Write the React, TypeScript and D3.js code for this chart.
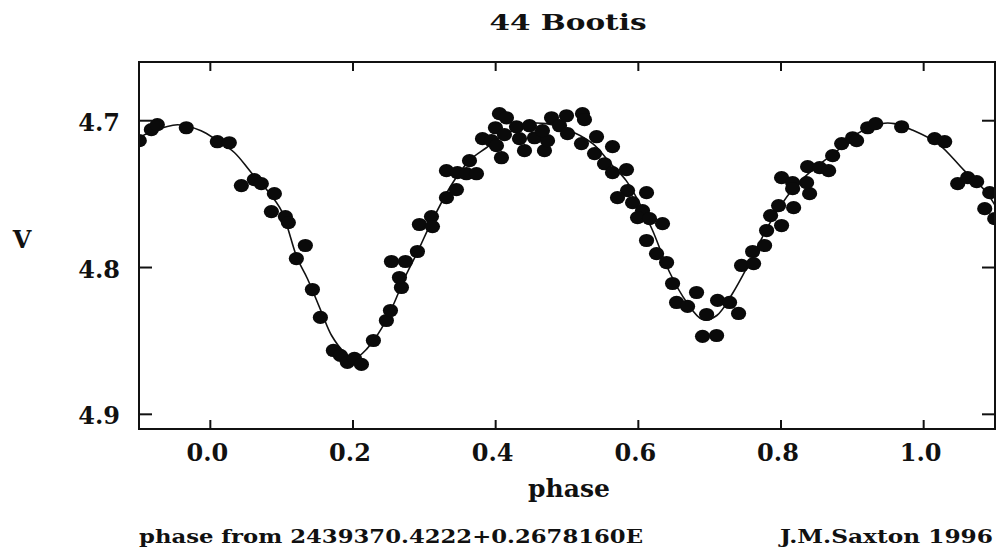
import React from "react";
import * as d3 from "d3";

const title = "44 Bootis";
const xLabel = "phase";
const yLabel = "V";
const footerLeft = "phase from 2439370.4222+0.2678160E";
const footerRight = "J.M.Saxton 1996";

const xTicks = [0.0, 0.2, 0.4, 0.6, 0.8, 1.0];
const yTicks = [4.7, 4.8, 4.9];

// observed points: phase, V magnitude
const obsPhase = [
  -0.0996, -0.0827, -0.0743, -0.0337, 0.0098, 0.0266, 0.0435, 0.0617, 0.0715, 0.0898,
  0.0856, 0.1052, 0.1094, 0.1332, 0.1206, 0.1431, 0.1543, 0.1725, 0.1823, 0.1921,
  0.2020, 0.2118, 0.2286, 0.2468, 0.2525, 0.2679, 0.2651, 0.2539, 0.2735, 0.2903,
  0.2931, 0.3100, 0.3114, 0.3310, 0.3450, 0.3310, 0.3464, 0.3590, 0.3731, 0.3633,
  0.3815, 0.3941, 0.4011, 0.4081, 0.3997, 0.4053, 0.4151, 0.4123, 0.4292, 0.4474,
  0.4334, 0.4404, 0.4544, 0.4684, 0.4727, 0.4656, 0.4783, 0.4895, 0.4993, 0.5007,
  0.5217, 0.5245, 0.5203, 0.5414, 0.5386, 0.5638, 0.5526, 0.5638, 0.5834, 0.5849,
  0.5708, 0.6115, 0.5919, 0.6059, 0.5989, 0.6157, 0.6339, 0.6115, 0.6255, 0.6396,
  0.6480, 0.6816, 0.6536, 0.6690, 0.6957, 0.6900, 0.7097, 0.7111, 0.7279, 0.7405,
  0.7447, 0.7616, 0.7602, 0.7770, 0.7798, 0.7854, 0.8008, 0.7966, 0.8177, 0.8401,
  0.8008, 0.8163, 0.8163, 0.8359, 0.8373, 0.8541, 0.8668, 0.8724, 0.8850, 0.9004,
  0.9060, 0.9215, 0.9327, 0.9691, 1.0154, 1.0295, 1.0477, 1.0617, 1.0743, 1.0926,
  1.0856, 1.0996,
];
const obsMag = [
  4.7136, 4.7061, 4.7027, 4.7048, 4.7143, 4.7150, 4.7442, 4.7401, 4.7429, 4.7497,
  4.7619, 4.7653, 4.7694, 4.7850, 4.7939, 4.8150, 4.8340, 4.8565, 4.8599, 4.8646,
  4.8619, 4.8660, 4.8497, 4.8361, 4.8293, 4.8136, 4.8068, 4.7959, 4.7959, 4.7891,
  4.7707, 4.7653, 4.7721, 4.7524, 4.7469, 4.7340, 4.7354, 4.7361, 4.7361, 4.7272,
  4.7122, 4.7136, 4.7170, 4.7252, 4.7048, 4.6952, 4.6980, 4.7095, 4.7041, 4.7034,
  4.7122, 4.7204, 4.7116, 4.7204, 4.7136, 4.7068, 4.6980, 4.7034, 4.6966, 4.7088,
  4.6952, 4.6993, 4.7156, 4.7109, 4.7224, 4.7177, 4.7293, 4.7354, 4.7333, 4.7476,
  4.7524, 4.7490, 4.7558, 4.7612, 4.7660, 4.7667, 4.7701, 4.7816, 4.7905, 4.7966,
  4.8109, 4.8170, 4.8238, 4.8265, 4.8320, 4.8469, 4.8463, 4.8224, 4.8238, 4.8313,
  4.7986, 4.7973, 4.7891, 4.7850, 4.7748, 4.7646, 4.7714, 4.7578, 4.7592, 4.7497,
  4.7388, 4.7422, 4.7463, 4.7422, 4.7313, 4.7320, 4.7340, 4.7238, 4.7156, 4.7116,
  4.7136, 4.7048, 4.7020, 4.7041, 4.7122, 4.7143, 4.7429, 4.7388, 4.7415, 4.7490,
  4.7599, 4.7667,
];

// fitted light curve nodes
const fitPhase = [
  -0.1, -0.083, -0.046, -0.013, 0.010, 0.034, 0.0575, 0.080, 0.0996, 0.122,
  0.136, 0.156, 0.170, 0.188, 0.202, 0.220, 0.240, 0.258, 0.272, 0.290,
  0.311, 0.339, 0.363, 0.387, 0.415, 0.447, 0.471, 0.494, 0.536, 0.560,
  0.583, 0.602, 0.620, 0.644, 0.668, 0.690, 0.710, 0.732, 0.756, 0.784,
  0.815, 0.843, 0.879, 0.907, 0.941, 0.959, 0.983, 1.020, 1.057, 1.086, 1.102,
];
const fitMag = [
  4.7116, 4.7075, 4.7027, 4.7068, 4.7136, 4.7218, 4.7354, 4.7476, 4.7612, 4.7939,
  4.8075, 4.8306, 4.8463, 4.8578, 4.8619, 4.8551, 4.8415, 4.8238, 4.8075, 4.7898,
  4.7680, 4.7429, 4.7272, 4.7184, 4.7088, 4.7020, 4.7020, 4.7048, 4.7156, 4.7286,
  4.7408, 4.7565, 4.7748, 4.8034, 4.8238, 4.8354, 4.8327, 4.8177, 4.7966, 4.7701,
  4.7476, 4.7340, 4.7204, 4.7088, 4.7020, 4.7020, 4.7061, 4.7156, 4.7340, 4.7476, 4.7592,
];

const W = 997;
const H = 550;
const left = 139;
const right = 995;
const top = 62;
const bottom = 429;
const FONT = "'DejaVu Serif', 'Liberation Serif', serif";

export default function App() {
  const x = d3.scaleLinear().domain([-0.1, 1.1]).range([left, right]);
  const y = d3.scaleLinear().domain([4.66, 4.91]).range([top, bottom]);

  const fitData = fitPhase.map((p, i) => [p, fitMag[i]] as [number, number]);
  const line = d3
    .line<[number, number]>()
    .x((d) => x(d[0]))
    .y((d) => y(d[1]))
    .curve(d3.curveCatmullRom.alpha(0.5));

  return (
    <svg
      width={W}
      height={H}
      style={{ position: "absolute", left: 0, top: 0, background: "#fff" }}
    >
      <defs>
        <clipPath id="plotClip">
          <rect x={left} y={top} width={right - left} height={bottom - top} />
        </clipPath>
      </defs>
      <rect x={0} y={0} width={W} height={H} fill="#fff" />

      <text
        x={568}
        y={30}
        textAnchor="middle"
        fontFamily={FONT}
        fontWeight="bold"
        fontSize={22}
        textLength={157}
        lengthAdjust="spacingAndGlyphs"
        fill="#111"
      >
        {title}
      </text>

      <g clipPath="url(#plotClip)">
        <path d={line(fitData) || ""} fill="none" stroke="#111" strokeWidth={1.6} />
        {obsPhase.map((p, i) => (
          <ellipse
            key={i}
            cx={x(p)}
            cy={y(obsMag[i])}
            rx={7.6}
            ry={6.6}
            fill="#0a0a0a"
          />
        ))}
      </g>

      <rect
        x={left}
        y={top}
        width={right - left}
        height={bottom - top}
        fill="none"
        stroke="#111"
        strokeWidth={2}
      />

      {xTicks.map((t) => (
        <g key={"x" + t}>
          <line x1={x(t)} x2={x(t)} y1={top} y2={top + 9} stroke="#111" strokeWidth={2} />
          <line x1={x(t)} x2={x(t)} y1={bottom} y2={bottom - 9} stroke="#111" strokeWidth={2} />
          <text
            x={x(t) - 3}
            y={461}
            textAnchor="middle"
            fontFamily={FONT}
            fontWeight="bold"
            fontSize={24}
            fill="#111"
          >
            {t.toFixed(1)}
          </text>
        </g>
      ))}

      {yTicks.map((t) => (
        <g key={"y" + t}>
          <line x1={left} x2={left + 13} y1={y(t)} y2={y(t)} stroke="#111" strokeWidth={2} />
          <line x1={right} x2={right - 13} y1={y(t)} y2={y(t)} stroke="#111" strokeWidth={2} />
          <text
            x={120}
            y={y(t) + 10}
            textAnchor="end"
            fontFamily={FONT}
            fontWeight="bold"
            fontSize={24}
            fill="#111"
          >
            {t.toFixed(1)}
          </text>
        </g>
      ))}

      <text
        x={22}
        y={248}
        textAnchor="middle"
        fontFamily={FONT}
        fontWeight="bold"
        fontSize={24}
        fill="#111"
      >
        {yLabel}
      </text>

      <text
        x={569}
        y={497}
        textAnchor="middle"
        fontFamily={FONT}
        fontWeight="bold"
        fontSize={25}
        fill="#111"
      >
        {xLabel}
      </text>

      <text
        x={139}
        y={543}
        fontFamily={FONT}
        fontWeight="bold"
        fontSize={19}
        textLength={504}
        lengthAdjust="spacingAndGlyphs"
        fill="#111"
      >
        {footerLeft}
      </text>
      <text
        x={780}
        y={543}
        fontFamily={FONT}
        fontWeight="bold"
        fontSize={19}
        textLength={213}
        lengthAdjust="spacingAndGlyphs"
        fill="#111"
      >
        {footerRight}
      </text>
    </svg>
  );
}
